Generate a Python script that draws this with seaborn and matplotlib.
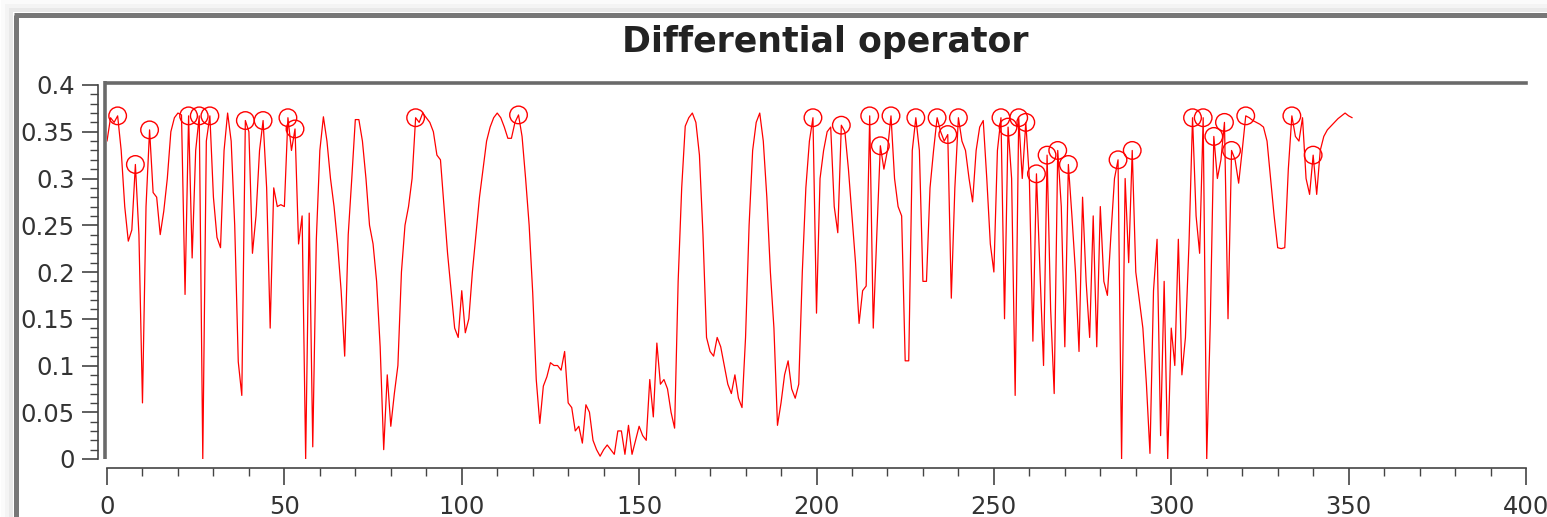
import numpy as np
import pandas as pd
import matplotlib
matplotlib.use("Agg")
import matplotlib.pyplot as plt
import seaborn as sns
from matplotlib.ticker import MultipleLocator, FixedLocator, FuncFormatter
from matplotlib.patches import Rectangle
from matplotlib.lines import Line2D

# ---------------- data ----------------
title_text = "Differential operator"

signal = [
    0.34, 0.365, 0.36, 0.367, 0.33, 0.27, 0.233, 0.245, 0.315, 0.24,
    0.06, 0.27, 0.352, 0.285, 0.28, 0.24, 0.265, 0.30, 0.35, 0.365,
    0.37, 0.368, 0.176, 0.367, 0.215, 0.33, 0.367, 0.0, 0.34, 0.367,
    0.28, 0.237, 0.226, 0.33, 0.37, 0.34, 0.25, 0.104, 0.068, 0.362,
    0.35, 0.22, 0.26, 0.33, 0.362, 0.29, 0.14, 0.29, 0.27, 0.272,
    0.27, 0.365, 0.33, 0.353, 0.23, 0.26, 0.0, 0.263, 0.013, 0.234,
    0.33, 0.366, 0.34, 0.30, 0.27, 0.23, 0.18, 0.11, 0.24, 0.30,
    0.363, 0.363, 0.34, 0.30, 0.25, 0.23, 0.19, 0.12, 0.01, 0.09,
    0.035, 0.07, 0.10, 0.20, 0.25, 0.27, 0.30, 0.365, 0.36, 0.37,
    0.365, 0.36, 0.35, 0.325, 0.32, 0.27, 0.22, 0.18, 0.14, 0.13,
    0.18, 0.135, 0.15, 0.20, 0.24, 0.28, 0.31, 0.34, 0.355, 0.365,
    0.37, 0.365, 0.355, 0.343, 0.343, 0.36, 0.368, 0.345, 0.30, 0.25,
    0.178, 0.085, 0.038, 0.078, 0.088, 0.103, 0.10, 0.10, 0.095, 0.115,
    0.06, 0.055, 0.03, 0.035, 0.017, 0.058, 0.05, 0.02, 0.01, 0.003,
    0.01, 0.015, 0.01, 0.005, 0.03, 0.03, 0.005, 0.036, 0.005, 0.02,
    0.035, 0.025, 0.02, 0.085, 0.045, 0.124, 0.08, 0.085, 0.075, 0.05,
    0.033, 0.19, 0.29, 0.356, 0.365, 0.37, 0.36, 0.325, 0.24, 0.13,
    0.115, 0.11, 0.13, 0.12, 0.10, 0.08, 0.07, 0.09, 0.065, 0.055,
    0.13, 0.25, 0.33, 0.36, 0.37, 0.34, 0.28, 0.20, 0.14, 0.036,
    0.06, 0.09, 0.105, 0.075, 0.065, 0.08, 0.20, 0.29, 0.34, 0.365,
    0.156, 0.30, 0.33, 0.35, 0.355, 0.27, 0.242, 0.357, 0.35, 0.31,
    0.26, 0.21, 0.145, 0.18, 0.185, 0.367, 0.14, 0.24, 0.335, 0.31,
    0.33, 0.367, 0.30, 0.27, 0.26, 0.105, 0.105, 0.33, 0.365, 0.33,
    0.19, 0.19, 0.29, 0.33, 0.365, 0.35, 0.34, 0.347, 0.172, 0.29,
    0.365, 0.34, 0.33, 0.30, 0.275, 0.33, 0.355, 0.362, 0.30, 0.23,
    0.20, 0.33, 0.365, 0.15, 0.355, 0.30, 0.068, 0.365, 0.30, 0.36,
    0.30, 0.126, 0.305, 0.20, 0.10, 0.325, 0.16, 0.07, 0.33, 0.27,
    0.12, 0.315, 0.26, 0.20, 0.115, 0.28, 0.19, 0.13, 0.26, 0.12,
    0.27, 0.19, 0.175, 0.24, 0.30, 0.32, 0.0, 0.30, 0.21, 0.33,
    0.20, 0.17, 0.14, 0.08, 0.006, 0.18, 0.235, 0.025, 0.19, 0.0,
    0.14, 0.10, 0.235, 0.09, 0.13, 0.23, 0.365, 0.26, 0.22, 0.365,
    0.0, 0.145, 0.345, 0.30, 0.32, 0.36, 0.15, 0.33, 0.32, 0.295,
    0.33, 0.367, 0.365, 0.362, 0.36, 0.358, 0.355, 0.34, 0.30, 0.26,
    0.226, 0.225, 0.226, 0.31, 0.367, 0.345, 0.34, 0.365, 0.30, 0.283,
    0.325, 0.283, 0.33, 0.345, 0.352, 0.356, 0.36, 0.364, 0.367, 0.37,
    0.367, 0.365,
]
sample_index = list(range(len(signal)))

peak_index = [3, 8, 12, 23, 26, 29, 39, 44, 51, 53, 87, 116, 199, 207, 215,
              218, 221, 228, 234, 237, 240, 252, 254, 257, 259, 262, 265,
              268, 271, 285, 289, 306, 309, 312, 315, 317, 321, 334, 340]

x_ticks = [0, 50, 100, 150, 200, 250, 300, 350, 400]
y_ticks = [0, 0.05, 0.1, 0.15, 0.2, 0.25, 0.3, 0.35, 0.4]

# ---------------- style ----------------
sns.set_theme(style="ticks")
plt.rcParams['font.family'] = ['DejaVu Sans']

W, H = 1547, 517
fig = plt.figure(figsize=(W / 100, H / 100), dpi=100)
fig.patch.set_facecolor("white")

# window-like frame with soft shadow (drawn beneath the axes)
for i, a in enumerate([0.05, 0.08, 0.12]):
    off = 4 * (3 - i)
    fig.add_artist(Rectangle(((13 - off) / W, 0), 1, (H - 12 + off) / H,
                             transform=fig.transFigure, facecolor="#000000",
                             alpha=a * 0.35, edgecolor="none", zorder=-3))
fig.add_artist(Rectangle((13 / W, 0), 1, (H - 12) / H, transform=fig.transFigure,
                         facecolor="white", edgecolor="none", zorder=-2))
fig.add_artist(Line2D([15.5 / W, 15.5 / W], [0, (H - 14.5) / H], transform=fig.transFigure,
                      color="#777777", linewidth=3.6, solid_capstyle="butt", zorder=-1))
fig.add_artist(Line2D([14 / W, 1.0], [(H - 14.5) / H, (H - 14.5) / H], transform=fig.transFigure,
                      color="#777777", linewidth=3.6, solid_capstyle="butt", zorder=-1))

top_px, bot_px, left_px, right_px = 82.5, 459, 107, 1526
ax = fig.add_axes([left_px / W, (H - bot_px) / H, (right_px - left_px) / W, (bot_px - top_px) / H])
ax.set_zorder(2)
ax.patch.set_alpha(0)

df = pd.DataFrame({"x": sample_index, "y": signal})
sns.lineplot(data=df, x="x", y="y", ax=ax, color="#ff0000", linewidth=0.9,
             estimator=None, sort=False, zorder=3)
pk = df.loc[peak_index]
sns.scatterplot(data=pk, x="x", y="y", ax=ax, marker="o", s=160, color="#ff0000",
                facecolors="none", edgecolor="#ff0000", linewidth=1.0, zorder=4)

ymax = 0.4 * (bot_px - top_px) / (bot_px - 85.0)
ax.set_xlim(0, 400)
ax.set_ylim(0, ymax)
ax.set_xlabel("")
ax.set_ylabel("")

# spines
ax.spines["right"].set_visible(False)
ax.spines["top"].set_color("#6a6a6a")
ax.spines["top"].set_linewidth(2.6)
ax.spines["left"].set_position(("outward", 6.7))
ax.spines["left"].set_bounds(0, 0.4)
ax.spines["left"].set_color("#444444")
ax.spines["left"].set_linewidth(1.2)
ax.spines["bottom"].set_position(("outward", 6.7))
ax.spines["bottom"].set_bounds(0, 400)
ax.spines["bottom"].set_color("#444444")
ax.spines["bottom"].set_linewidth(1.2)

# thick gray left border of the plotting area
ax.add_line(Line2D([-2.5 / (right_px - left_px)] * 2, [0, 1.0 + 1.3 / (bot_px - top_px)],
                   transform=ax.transAxes, color="#6a6a6a", linewidth=2.6,
                   solid_capstyle="butt", clip_on=False, zorder=5))

ax.xaxis.set_major_locator(FixedLocator(x_ticks))
ax.xaxis.set_minor_locator(MultipleLocator(10))
ax.yaxis.set_major_locator(FixedLocator(y_ticks))
ax.yaxis.set_minor_locator(MultipleLocator(0.01))
fmt = FuncFormatter(lambda v, p: f"{v:g}")
ax.xaxis.set_major_formatter(fmt)
ax.yaxis.set_major_formatter(fmt)

ax.tick_params(axis="both", which="major", direction="out", width=1.2, color="#444444",
               labelcolor="#333333", labelsize=17.5)
ax.tick_params(axis="x", which="major", length=12, pad=7)
ax.tick_params(axis="y", which="major", length=11.5, pad=5)
ax.tick_params(axis="both", which="minor", direction="out", length=5.8, width=1.0, color="#444444")

fig.text(825 / W, 1 - 52 / H, title_text, ha="center", va="baseline",
         fontsize=25, fontweight="bold", color="#222222")

fig.savefig("out.png", dpi=100)
